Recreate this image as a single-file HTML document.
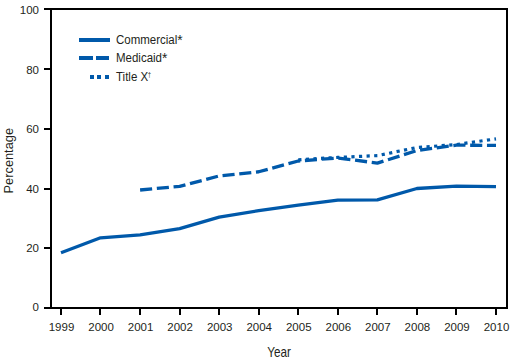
<!DOCTYPE html>
<html><head><meta charset="utf-8"><style>
html,body{margin:0;padding:0;background:#fff;width:514px;height:363px;overflow:hidden}
svg{display:block}
text{font-family:"Liberation Sans", sans-serif;fill:#231f20}
</style></head><body>
<svg width="514" height="363" viewBox="0 0 514 363">
<g stroke="#000" stroke-width="2" fill="none">
<path d="M44 9 H507 V308 H44" />
<line x1="51" y1="8" x2="51" y2="308"/>
<line x1="44" y1="9" x2="51" y2="9"/><line x1="44" y1="69" x2="51" y2="69"/><line x1="44" y1="129" x2="51" y2="129"/><line x1="44" y1="189" x2="51" y2="189"/><line x1="44" y1="248" x2="51" y2="248"/><line x1="44" y1="308" x2="51" y2="308"/>
<line x1="61" y1="308" x2="61" y2="315"/><line x1="100" y1="308" x2="100" y2="315"/><line x1="140" y1="308" x2="140" y2="315"/><line x1="180" y1="308" x2="180" y2="315"/><line x1="219" y1="308" x2="219" y2="315"/><line x1="259" y1="308" x2="259" y2="315"/><line x1="298" y1="308" x2="298" y2="315"/><line x1="338" y1="308" x2="338" y2="315"/><line x1="377" y1="308" x2="377" y2="315"/><line x1="417" y1="308" x2="417" y2="315"/><line x1="456" y1="308" x2="456" y2="315"/><line x1="496" y1="308" x2="496" y2="315"/>
</g>
<g font-size="11.5">
<text x="39" y="13.70" text-anchor="end">100</text><text x="39" y="73.70" text-anchor="end">80</text><text x="39" y="132.70" text-anchor="end">60</text><text x="39" y="192.70" text-anchor="end">40</text><text x="39" y="251.80" text-anchor="end">20</text><text x="39" y="310.90" text-anchor="end">0</text>
<text x="61.50" y="331" text-anchor="middle">1999</text><text x="101.05" y="331" text-anchor="middle">2000</text><text x="140.59" y="331" text-anchor="middle">2001</text><text x="180.14" y="331" text-anchor="middle">2002</text><text x="219.68" y="331" text-anchor="middle">2003</text><text x="259.23" y="331" text-anchor="middle">2004</text><text x="298.77" y="331" text-anchor="middle">2005</text><text x="338.32" y="331" text-anchor="middle">2006</text><text x="377.86" y="331" text-anchor="middle">2007</text><text x="417.41" y="331" text-anchor="middle">2008</text><text x="456.95" y="331" text-anchor="middle">2009</text><text x="496.50" y="331" text-anchor="middle">2010</text>
</g>
<text transform="translate(279,357) scale(0.84,1)" font-size="14" text-anchor="middle">Year</text>
<text transform="translate(13,160.7) rotate(-90) scale(0.985,1)" font-size="13" text-anchor="middle">Percentage</text>
<g fill="none" stroke="#0059aa" stroke-width="3.3" stroke-linejoin="round">
<polyline points="61.00,252.78 100.55,237.83 140.09,234.84 179.64,228.56 219.18,217.20 258.73,210.62 298.27,205.24 337.82,200.16 377.36,199.86 416.91,188.50 456.45,186.11 496.00,186.70"/>
<polyline points="140.09,189.99 179.64,186.40 219.18,175.94 258.73,171.75 298.27,160.99 337.82,158.00 377.36,163.08 416.91,150.52 456.45,145.14 496.00,145.44" stroke-dasharray="12.1 4.7"/>
<polyline points="298.27,159.79 337.82,157.40 377.36,155.61 416.91,147.53 456.45,144.54 496.00,138.86" stroke-width="3.2" stroke-dasharray="3.2 4.4"/>
</g>
<g fill="#0059aa">
<rect x="79" y="38" width="31" height="4"/>
<rect x="79" y="56" width="14" height="4"/>
<rect x="96" y="56" width="13" height="4"/>
<rect x="90" y="75" width="4" height="4"/>
<rect x="97" y="75" width="4" height="4"/>
<rect x="105" y="75" width="4" height="4"/>
</g>
<g font-size="12.5" transform="translate(116,0) scale(0.92,1) translate(-116,0)">
<text x="116" y="44">Commercial<tspan font-size="15" dy="1">*</tspan></text>
<text x="116" y="62">Medicaid<tspan font-size="15" dy="1">*</tspan></text>
<text x="116" y="81">Title X<tspan font-size="6.5" dy="-4" dx="-0.5">†</tspan></text>
</g>
</svg>
</body></html>
